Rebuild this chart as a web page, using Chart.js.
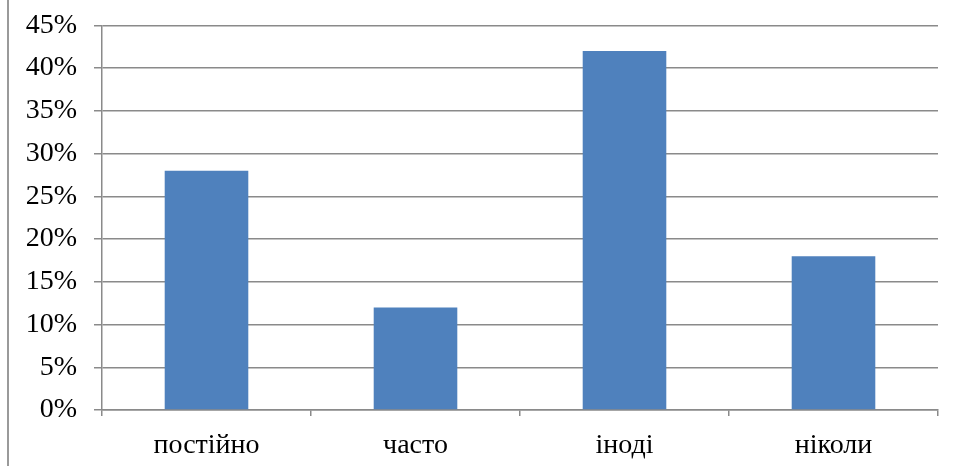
<!DOCTYPE html>
<html>
<head>
<meta charset="utf-8">
<script src="https://cdn.jsdelivr.net/npm/chart.js@4"></script>
<style>
    html, body { margin: 0; padding: 0; background: #fff; }
    #wrap { width: 960px; height: 466px; position: relative; }
</style>
</head>
<body>
<div id="wrap"><canvas id="chart"></canvas></div>
<script>
const categories = ['постійно', 'часто', 'іноді', 'ніколи'];
const values = [28, 12, 42, 18];
const yMax = 45;
const yStep = 5;

const gridColor = '#8a8a8a';
const labelFont = { family: 'Liberation Serif', size: 28 };

// the thin frame line on the left side of the picture
const frameLine = {
    id: 'frameLine',
    beforeDraw(chart) {
        const c = chart.ctx;
        c.save();
        c.strokeStyle = '#9a9a9a';
        c.lineWidth = 2;
        c.beginPath();
        c.moveTo(8, 0);
        c.lineTo(8, chart.height);
        c.stroke();
        c.restore();
    }
};

function makeChart() {
    const ctx = document.getElementById('chart');
    const data = {
        labels: categories,
        datasets: [{
            data: values,
            backgroundColor: '#4f81bd',
            borderWidth: 0,
            barPercentage: 0.4,
            categoryPercentage: 1,
        }]
    };
    const options = {
        responsive: true,
        maintainAspectRatio: false,
        animation: false,
        devicePixelRatio: 1,
        layout: {
            padding: { left: 0, top: 2, right: 22, bottom: 0 }
        },
        scales: {
            y: {
                min: 0,
                max: yMax,
                ticks: {
                    stepSize: yStep,
                    padding: 17,
                    color: '#000',
                    font: { ...labelFont, lineHeight: 0.6 },
                    callback: v => v + '%',
                },
                grid: {
                    color: gridColor,
                    lineWidth: 1.5,
                    tickLength: 8,
                },
                border: { color: gridColor, width: 1.5 },
                afterFit: s => { s.width = 102; },
            },
            x: {
                offset: true,
                ticks: {
                    padding: 13,
                    color: '#000',
                    font: labelFont,
                },
                grid: {
                    offset: true,
                    drawOnChartArea: false,
                    color: gridColor,
                    lineWidth: 1.5,
                    tickLength: 6,
                },
                border: { color: gridColor, width: 1.5 },
                afterFit: s => { s.height = 56; },
            }
        },
        plugins: {
            legend: { display: false },
            tooltip: { enabled: false },
        }
    };

    new Chart(ctx, { type: 'bar', data, options, plugins: [frameLine] });
}

makeChart();
</script>
</body>
</html>
